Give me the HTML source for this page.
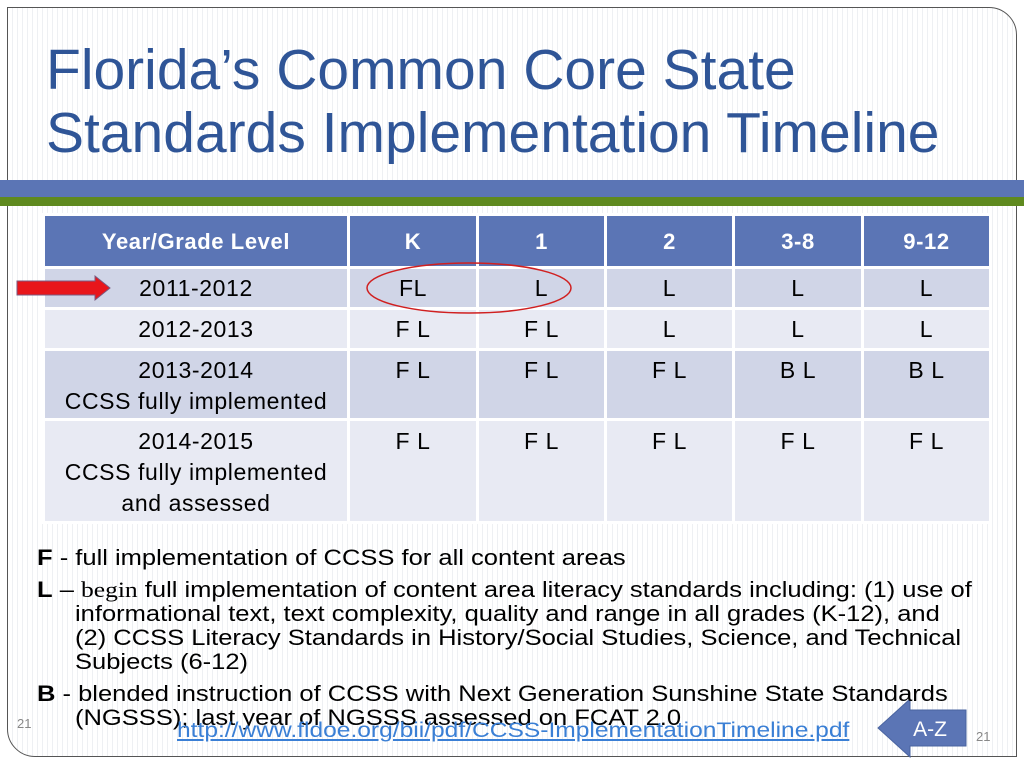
<!DOCTYPE html>
<html><head><meta charset="utf-8"><style>
body{margin:0;width:1024px;height:768px;overflow:hidden;background:#fff;font-family:"Liberation Sans",sans-serif;position:relative}
.slide{position:absolute;left:7px;top:7px;width:1008px;height:748px;border:1.5px solid #555;border-radius:0 28px 0 28px;background:repeating-linear-gradient(90deg,#fff 0,#fff 4px,#eef0f3 4px,#eef0f3 5px);overflow:hidden}
.title{position:absolute;left:46px;top:39px;font-size:57px;line-height:63px;color:#2f5597;white-space:nowrap}
.band1{position:absolute;left:0;top:180px;width:1024px;height:17px;background:#5b75b5}
.band2{position:absolute;left:0;top:197px;width:1024px;height:9px;background:#5f8a1f}
table{position:absolute;left:42px;top:213px;border-collapse:collapse;font-size:23px;letter-spacing:0.6px;line-height:31px}
td,th{border:3px solid #fff;text-align:center;vertical-align:top;padding:0;white-space:nowrap}
th{background:#5b75b5;color:#fff;height:50px;vertical-align:middle;font-size:22px;letter-spacing:0.6px}
.r1 td{background:#d0d5e7;height:38px;vertical-align:middle}
.r2 td{background:#e8eaf3;height:38px;vertical-align:middle}
.r3 td{background:#d0d5e7;height:63px;padding-top:4px}
.r4 td{background:#e8eaf3;height:95px;padding-top:5px}
.leg{position:absolute;left:37px;font-size:22px;color:#000;line-height:24px;white-space:nowrap;transform:scaleX(1.16);transform-origin:0 0}
.ind{left:75px}
a{position:absolute;left:177px;top:719px;font-size:21px;color:#3a7fd5;text-decoration:underline;white-space:nowrap;transform:scaleX(1.17);transform-origin:0 0}
.num{position:absolute;font-size:13px;color:#888}
</style></head><body>
<div class="slide"></div>
<div class="title">Florida’s Common Core State<br>Standards Implementation Timeline</div>
<div class="band1"></div>
<div class="band2"></div>
<table>
<tr><th style="width:302px">Year/Grade Level</th><th style="width:126px">K</th><th style="width:125px">1</th><th style="width:125px">2</th><th style="width:126px">3-8</th><th style="width:125px">9-12</th></tr>
<tr class="r1"><td>2011-2012</td><td>FL</td><td>L</td><td>L</td><td>L</td><td>L</td></tr>
<tr class="r2"><td>2012-2013</td><td>F L</td><td>F L</td><td>L</td><td>L</td><td>L</td></tr>
<tr class="r3"><td>2013-2014<br>CCSS fully implemented</td><td>F L</td><td>F L</td><td>F L</td><td>B L</td><td>B L</td></tr>
<tr class="r4"><td>2014-2015<br>CCSS fully implemented<br>and assessed</td><td>F L</td><td>F L</td><td>F L</td><td>F L</td><td>F L</td></tr>
</table>
<svg style="position:absolute;left:0;top:0" width="1024" height="768">
<ellipse cx="469" cy="288" rx="102" ry="25" fill="none" stroke="#d02020" stroke-width="1.5"/>
<polygon points="17,281 95,281 95,276 110,288 95,300 95,295 17,295" fill="#e8161b" stroke="#7a5a80" stroke-width="1"/>
<polygon points="878,728 910,699 910,710 966,710 966,746 910,746 910,757" fill="#5b75b5" stroke="#4a64a0"/>
<text x="930" y="736" font-family="Liberation Sans" font-size="21" fill="#fff" text-anchor="middle">A-Z</text>
</svg>
<div class="leg" style="top:546px"><b>F</b> - full implementation of CCSS for all content areas</div>
<div class="leg" style="top:578px"><b>L</b> – <span style="font-family:'Liberation Serif',serif">begin</span> full implementation of content area literacy standards including:  (1) use of</div>
<div class="leg ind" style="top:602px">informational text, text complexity, quality and range in all grades (K-12), and</div>
<div class="leg ind" style="top:626px">(2) CCSS Literacy Standards in History/Social Studies, Science, and Technical</div>
<div class="leg ind" style="top:650px">Subjects (6-12)</div>
<div class="leg" style="top:682px"><b>B</b> - blended instruction of CCSS with Next Generation Sunshine State Standards</div>
<div class="leg ind" style="top:706px">(NGSSS); last year of NGSSS assessed on FCAT 2.0</div>
<a>http://www.fldoe.org/bii/pdf/CCSS-ImplementationTimeline.pdf</a>
<div class="num" style="left:17px;top:716px">21</div>
<div class="num" style="left:976px;top:729px">21</div>
</body></html>
